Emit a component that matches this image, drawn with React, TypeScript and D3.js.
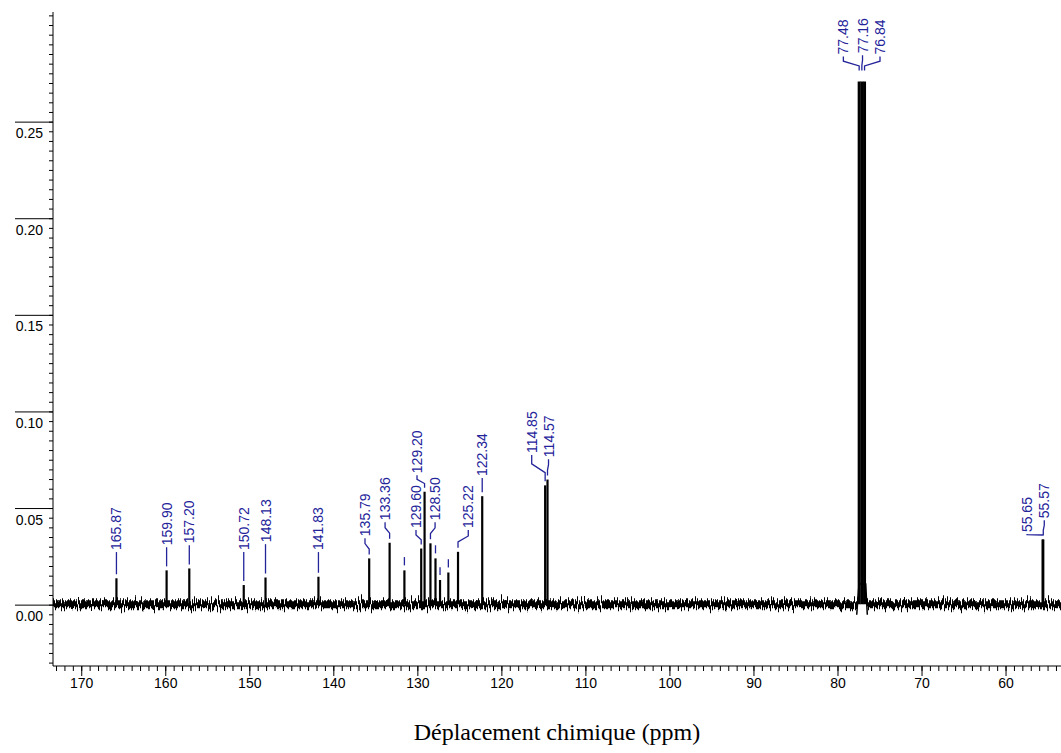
import React from 'react';
import * as d3 from 'd3';

// ---------- data ----------
const peakPpm = [165.87, 159.9, 157.2, 150.72, 148.13, 141.83, 135.79, 133.36, 131.6, 129.6, 129.2, 128.5, 127.9, 127.36, 126.37, 125.22, 122.34, 114.85, 114.57, 77.48, 77.16, 76.84, 55.65, 55.57];
const peakHeight = [0.0139, 0.018, 0.019, 0.0104, 0.0143, 0.0147, 0.0242, 0.0323, 0.018, 0.0293, 0.0587, 0.032, 0.0242, 0.013, 0.0169, 0.0276, 0.0564, 0.062, 0.065, 0.271, 0.271, 0.271, 0.034, 0.034];
const peakLabel = ['165.87', '159.90', '157.20', '150.72', '148.13', '141.83', '135.79', '133.36', '', '129.60', '129.20', '128.50', '', '', '', '125.22', '122.34', '114.85', '114.57', '77.48', '77.16', '76.84', '55.65', '55.57'];
// label column position (ppm) and label text bottom (intensity)
const labelPpm = [165.87, 159.9, 157.2, 150.72, 148.13, 141.83, 136.29, 133.9, 131.6, 130.22, 130.1, 127.95, 127.9, 127.36, 126.37, 124.0, 122.34, 116.45, 114.45, 79.36, 77.08, 75.0, 57.5, 55.45];
const labelBase = [0.0285, 0.031, 0.032, 0.0285, 0.0326, 0.0285, 0.0357, 0.044, 0.0259, 0.0399, 0.0683, 0.044, 0.032, 0.0207, 0.0248, 0.0399, 0.0668, 0.0787, 0.0766, 0.285, 0.2857, 0.285, 0.0378, 0.045];
const baselineLevel = 0.0005;
// broadened foot of the solvent triplet: ppm / intensity
const solventFootPpm = [77.77, 77.5, 76.7, 76.51];
const solventFootVal = [-0.005, 0.011, 0.011, -0.005];

const yMajorTicks = [0, 0.05, 0.1, 0.15, 0.2, 0.25];
const xMajorTicks = [170, 160, 150, 140, 130, 120, 110, 100, 90, 80, 70, 60];

// ---------- layout ----------
const W = 1061;
const H = 753;
const labelGapPx = peakHeight.map((h, i) => (h > 0.2 ? 11 : peakLabel[i] === '' ? 5 : 4));
const BLUE = '#23239a';
const SANS = '"Liberation Sans", Arial, Helvetica, sans-serif';
const SERIF = '"Liberation Serif", "Times New Roman", serif';

export default function App() {
  const x = d3.scaleLinear().domain([173.42, 53.46]).range([53, 1061]);
  const y = d3.scaleLinear().domain([-0.0315, 0.307]).range([666, 12]);

  const yMinor = d3.range(-30, 306, 5).map((v) => v / 1000);
  const xMinor = d3.range(54, 174, 1);

  const line = d3.line<[number, number]>();

  const connectors = peakPpm.map((p, i) => {
    const xp = x(p);
    const xl = x(labelPpm[i]);
    const start = y(peakHeight[i]) - labelGapPx[i];
    const end = y(labelBase[i]) + 2;
    const L = start - end;
    const pts: [number, number][] = [
      [xp, start],
      [xp, start - L / 3],
      [xl, start - (2 * L) / 3],
      [xl, end],
    ];
    return line(pts) as string;
  });

  const footPts: [number, number][] = solventFootPpm.map((p, i) => [x(p), y(solventFootVal[i])]);

  return (
    <svg width={W} height={H} style={{ position: 'absolute', left: 0, top: 0, background: '#fff' }}>
      <defs>
        <filter id="noise" filterUnits="userSpaceOnUse" x={40} y={560} width={1040} height={90} colorInterpolationFilters="sRGB">
          <feTurbulence type="fractalNoise" baseFrequency="0.7 0.01" numOctaves={3} seed={7} result="t" />
          <feColorMatrix in="t" type="matrix" values="0 0 0 0 0.5  0 1 0 0 0  0 0 1 0 0  0 0 0 0 1" result="m" />
          <feDisplacementMap in="SourceGraphic" in2="m" scale={18} xChannelSelector="R" yChannelSelector="G" />
        </filter>
      </defs>

      {/* baseline noise */}
      <line x1={x(173.42)} x2={W} y1={y(baselineLevel)} y2={y(baselineLevel)} stroke="#000" strokeWidth={8} filter="url(#noise)" />

      {/* solvent foot */}
      <path d={(line(footPts) as string)} fill="#fff" stroke="#000" strokeWidth={1.5} />

      {/* peaks */}
      {peakPpm.map((p, i) => (
        <line key={'p' + i} x1={x(p)} x2={x(p)} y1={y(baselineLevel)} y2={y(peakHeight[i])} stroke="#000" strokeWidth={peakHeight[i] > 0.2 ? 3 : 2.2} />
      ))}

      {/* label connectors */}
      {connectors.map((d, i) => (
        <path key={'c' + i} d={d} fill="none" stroke={BLUE} strokeWidth={1.3} />
      ))}
      {peakLabel.map((t, i) =>
        t ? (
          <text key={'l' + i} transform={`translate(${x(labelPpm[i])},${y(labelBase[i])}) rotate(-90)`} dominantBaseline="central" fontFamily={SANS} fontSize={14} fill={BLUE}>
            {t}
          </text>
        ) : null
      )}

      {/* y axis */}
      <line x1={53} x2={53} y1={y(0.307)} y2={y(-0.0315)} stroke="#000" strokeWidth={1} />
      {yMinor.map((v, i) => (
        <line key={'ym' + i} x1={49} x2={53} y1={y(v)} y2={y(v)} stroke="#000" strokeWidth={1} />
      ))}
      {yMajorTicks.map((v) => (
        <g key={'yM' + v}>
          <line x1={15} x2={53} y1={y(v)} y2={y(v)} stroke="#000" strokeWidth={1} />
          <text x={43} y={y(v) + 16} textAnchor="end" fontFamily={SANS} fontSize={14} fill="#000">
            {d3.format('.2f')(v)}
          </text>
        </g>
      ))}

      {/* x axis */}
      <line x1={53} x2={W} y1={666} y2={666} stroke="#000" strokeWidth={1} />
      {xMinor.map((v) => (
        <line key={'xm' + v} x1={x(v)} x2={x(v)} y1={666} y2={671} stroke="#000" strokeWidth={1} />
      ))}
      {xMajorTicks.map((v) => (
        <g key={'xM' + v}>
          <line x1={x(v)} x2={x(v)} y1={666} y2={676} stroke="#000" strokeWidth={1} />
          <text x={x(v)} y={688} textAnchor="middle" fontFamily={SANS} fontSize={14} fill="#000">
            {v}
          </text>
        </g>
      ))}

      <text x={557} y={740} textAnchor="middle" fontFamily={SERIF} fontSize={24} fill="#000">
        Déplacement chimique (ppm)
      </text>
    </svg>
  );
}
